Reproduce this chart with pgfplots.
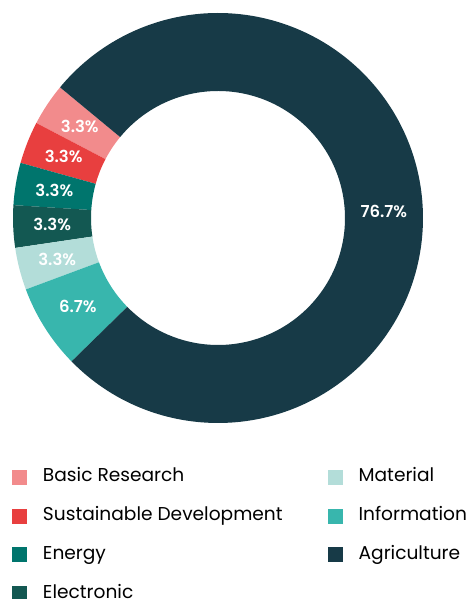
\documentclass[border=0pt]{standalone}
\usepackage{fontspec}
\setmainfont{Poppins}[BoldFont={Poppins SemiBold}]
\usepackage{pgfplots}
\usepackage{pgfplotstable}
\pgfplotsset{compat=1.18}

\definecolor{cBasic}{HTML}{F28B8C}
\definecolor{cSust}{HTML}{E83F3F}
\definecolor{cEnergy}{HTML}{00756D}
\definecolor{cElec}{HTML}{135852}
\definecolor{cMat}{HTML}{B3DDD9}
\definecolor{cInfo}{HTML}{38B6AD}
\definecolor{cAgri}{HTML}{173A47}

% number of projects per field, label as shown on the ring
\pgfplotstableread[col sep=comma]{
name,count,pct,color
Basic Research,1,3.3,cBasic
Sustainable Development,1,3.3,cSust
Energy,1,3.3,cEnergy
Electronic,1,3.3,cElec
Material,1,3.3,cMat
Information,2,6.7,cInfo
Agriculture,23,76.7,cAgri
}\shares

\tikzset{lbl/.style={text=white, font=\bfseries\fontsize{16.5}{16.5}\selectfont}}

\begin{document}
\begin{tikzpicture}
\path[use as bounding box] (0,0) rectangle (467pt,599pt);
\begin{axis}[
  width=467pt, height=599pt, scale only axis,
  xmin=0, xmax=467, ymin=0, ymax=599,
  hide axis, clip=false,
  legend image code/.code={\fill[#1] (0pt,-7.5pt) rectangle (15pt,7.5pt);},
  transpose legend, legend columns=4, legend cell align=left,
  legend style={at={(axis cs:12,130)}, anchor=north west,
    draw=none, fill=none, inner sep=0pt, outer sep=0pt,
    row sep=21.7pt, column sep=16pt,
    /tikz/every even column/.append style={column sep=45pt},
    font=\fontsize{18.6}{18.6}\selectfont,
    nodes={inner sep=0pt, text height=13pt, text depth=4pt}},
]
\pgfplotstablegetrowsof{\shares}
\pgfmathtruncatemacro\last{\pgfplotsretval-1}
\xdef\total{0}
\pgfplotsforeachungrouped \i in {0,...,\last}{%
  \pgfplotstablegetelem{\i}{count}\of\shares
  \pgfmathsetmacro\t{\total+\pgfplotsretval}\xdef\total{\t}%
}
\xdef\cum{140.4}
\pgfplotsforeachungrouped \i in {0,...,\last}{%
  \pgfplotstablegetelem{\i}{count}\of\shares \let\n\pgfplotsretval
  \pgfplotstablegetelem{\i}{pct}\of\shares \let\p\pgfplotsretval
  \pgfplotstablegetelem{\i}{color}\of\shares \let\c\pgfplotsretval
  \pgfplotstablegetelem{\i}{name}\of\shares \let\nm\pgfplotsretval
  \pgfmathsetmacro\a{\cum}%
  \pgfmathsetmacro\b{\cum+\n*360/\total}%
  \pgfmathsetmacro\m{(\a+\b)/2}%
  \edef\temp{%
    \noexpand\fill[\c] (axis cs:{218+205*cos(\a)},{381+205*sin(\a)})
      arc[start angle=\a, end angle=\b, radius=205pt]
      -- (axis cs:{218+127*cos(\b)},{381+127*sin(\b)})
      arc[start angle=\b, end angle=\a, radius=127pt] -- cycle;
    \noexpand\node[lbl] at (axis cs:{218+166*cos(\m)},{381+166*sin(\m)}) {\p\noexpand\%};
    \noexpand\addlegendimage{fill=\c, draw=none}%
  }\temp
  \addlegendentryexpanded{\nm}%
  \xdef\cum{\b}%
}
\end{axis}
\end{tikzpicture}
\end{document}
